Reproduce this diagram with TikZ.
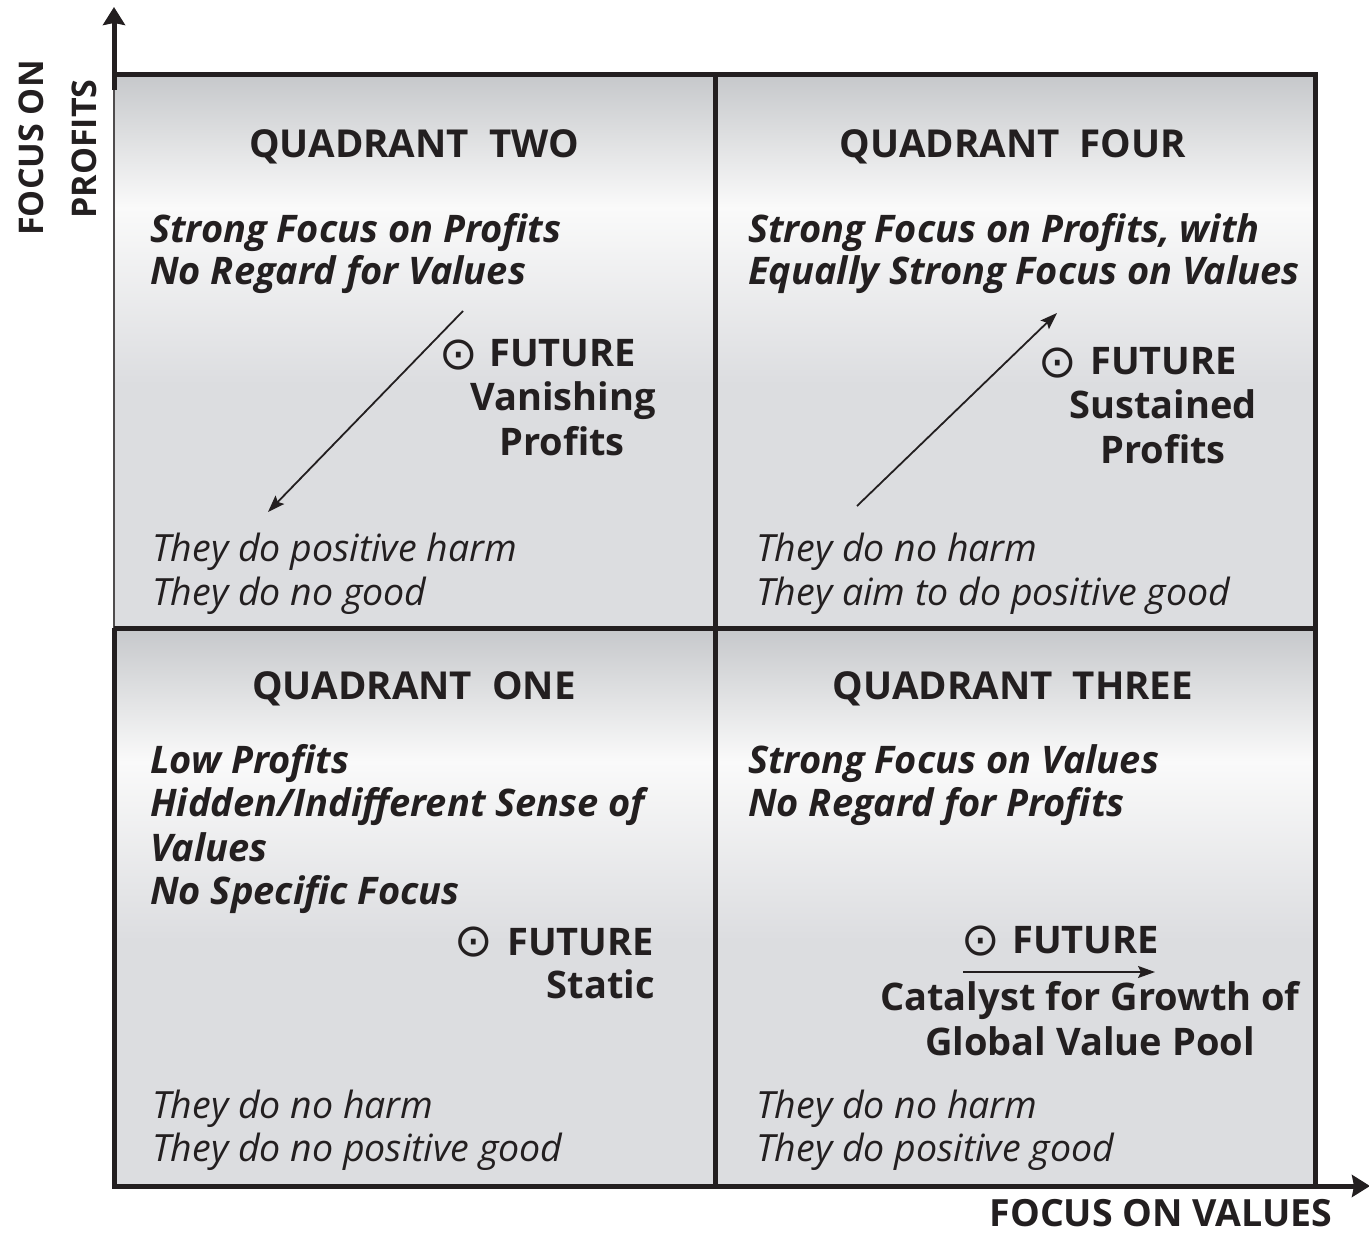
\documentclass[tikz,border=0pt]{standalone}
\usepackage{fontspec}
\setmainfont{Open Sans}
\newfontfamily\symfont{DejaVu Sans}
\usetikzlibrary{arrows.meta}
\definecolor{qtop}{HTML}{C6C8CB}
\definecolor{qlight}{HTML}{FAFAFA}
\definecolor{qbot}{HTML}{DCDDE0}
\definecolor{ink}{HTML}{231F20}
\pgfdeclareverticalshading{quadshade}{100bp}{color(0bp)=(qbot); color(25bp)=(qbot); color(47bp)=(qbot); color(63bp)=(qlight); color(75bp)=(qtop); color(100bp)=(qtop)}
\tikzset{
  grid/.style={line width=5pt, draw=ink},
  thinborder/.style={line width=2.5pt, draw=ink!80},
  axisline/.style={line width=5pt, draw=ink, -{Stealth[length=18pt,width=22pt,inset=2pt]}},
  flow/.style={line width=1.8pt, draw=ink, -{Stealth[length=17pt,width=12pt,inset=3pt]}},
  txt/.style={inner sep=0pt, text=ink},
  title/.style={txt, anchor=base, font=\bfseries\fontsize{38.5}{42}\selectfont},
  lead/.style={txt, anchor=base west, font=\bfseries\itshape\fontsize{38}{42}\selectfont},
  note/.style={txt, anchor=base west, font=\itshape\fontsize{37.5}{42}\selectfont},
  fut/.style={txt, anchor=base west, font=\bfseries\fontsize{38}{42}\selectfont},
  futc/.style={fut, anchor=base},
  fute/.style={fut, anchor=base east},
  sym/.style={txt, anchor=center, font=\symfont\fontsize{46}{50}\selectfont},
  axlab/.style={txt, anchor=base, font=\bfseries\fontsize{34}{42}\selectfont},
  xaxlab/.style={axlab, font=\bfseries\fontsize{37.5}{42}\selectfont}
}
\newcommand{\qgap}{\hspace{20pt}}
\begin{document}
\begin{tikzpicture}[x=1pt,y=-1pt]
\useasboundingbox (0,0) rectangle (1369,1233);
% quadrant backgrounds
\shade[shading=quadshade] (114,75) rectangle (715,628);
\shade[shading=quadshade] (715,75) rectangle (1315,628);
\shade[shading=quadshade] (114,628) rectangle (715,1186);
\shade[shading=quadshade] (715,628) rectangle (1315,1186);
% grid
\draw[thinborder] (114,75) -- (114,628);
\draw[grid] (114,628) -- (114,1186) -- (1315,1186) -- (1315,75) -- (112,75);
\draw[grid] (715,75) -- (715,1186);
\draw[grid] (114,628) -- (1315,628);
% axes
\coordinate (yfoot) at (114,90);
\coordinate (ytip) at (114,7);
\coordinate (xfoot) at (112,1186);
\coordinate (xtip) at (1370,1186);
\draw[axisline] (yfoot) -- (ytip);
\draw[axisline] (xfoot) -- (xtip);
\node[axlab, rotate=90] (ylabA) at (43,148) {FOCUS ON};
\node[axlab, rotate=90] (ylabB) at (96,149) {PROFITS};
\node[xaxlab] (xlab) at (1161,1226) {FOCUS ON VALUES};

% Quadrant two
\node[title] (t2) at (414,158) {QUADRANT\qgap TWO};
\node[lead] (q2a) at (150,243) {Strong Focus on Profits};
\node[lead] (q2b) at (150,285) {No Regard for Values};
\node[sym] (s2) at (459,355) {⊙};
\node[fut] (f2) at (489,367) {FUTURE};
\node[futc] (f2b) at (563,410) {Vanishing};
\node[futc] (f2c) at (562,455) {Profits};
\node[note] (n2a) at (152,561) {They do positive harm};
\node[note] (n2b) at (152,605) {They do no good};
\coordinate (a2s) at (463,311);
\coordinate (a2e) at (268,512);
\draw[flow] (a2s) -- (a2e);

% Quadrant four
\node[title] (t4) at (1013,158) {QUADRANT\qgap FOUR};
\node[lead] (q4a) at (748,243) {Strong Focus on Profits, with};
\node[lead] (q4b) at (748,285) {Equally Strong Focus on Values};
\node[sym] (s4) at (1058,363) {⊙};
\node[fut] (f4) at (1090,375) {FUTURE};
\node[futc] (f4b) at (1163,418) {Sustained};
\node[futc] (f4c) at (1163,463) {Profits};
\node[note] (n4a) at (756,561) {They do no harm};
\node[note] (n4b) at (756,605) {They aim to do positive good};
\coordinate (a4s) at (857,506);
\coordinate (a4e) at (1057,313);
\draw[flow] (a4s) -- (a4e);

% Quadrant one
\node[title] (t1) at (414,699) {QUADRANT\qgap ONE};
\node[lead] (q1a) at (150,773) {Low Profits};
\node[lead] (q1b) at (150,816) {Hidden/Indifferent Sense of};
\node[lead] (q1c) at (150,861) {Values};
\node[lead] (q1d) at (150,904) {No Specific Focus};
\node[sym] (s1) at (474,942) {⊙};
\node[fut] (f1) at (507,955) {FUTURE};
\node[fute] (f1b) at (655,998) {Static};
\node[note] (n1a) at (152,1118) {They do no harm};
\node[note] (n1b) at (152,1161) {They do no positive good};

% Quadrant three
\node[title] (t3) at (1013,699) {QUADRANT\qgap THREE};
\node[lead] (q3a) at (748,773) {Strong Focus on Values};
\node[lead] (q3b) at (748,816) {No Regard for Profits};
\node[sym] (s3) at (981,941) {⊙};
\node[fut] (f3) at (1012,953) {FUTURE};
\coordinate (a3s) at (963,972);
\coordinate (a3e) at (1155,972);
\draw[flow] (a3s) -- (a3e);
\node[futc] (f3b) at (1090,1010) {Catalyst for Growth of};
\node[futc] (f3c) at (1090,1055) {Global Value Pool};
\node[note] (n3a) at (756,1118) {They do no harm};
\node[note] (n3b) at (756,1161) {They do positive good};
\end{tikzpicture}
\end{document}
